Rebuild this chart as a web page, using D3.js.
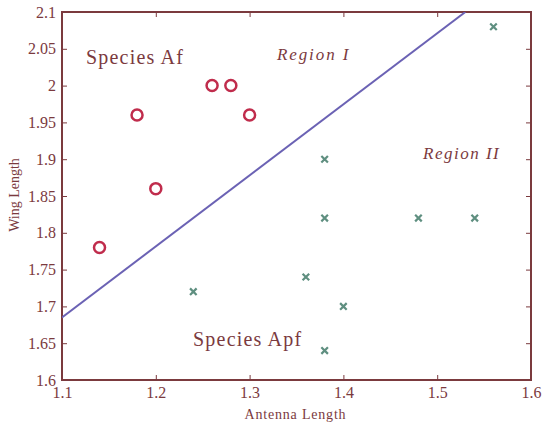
<!DOCTYPE html>
<html>
<head>
<meta charset="utf-8">
<script src="https://cdn.jsdelivr.net/npm/d3@7"></script>
<style>
  body { margin: 0; background: #fff; }
  svg text { font-family: "Times New Roman", Times, "Liberation Serif", serif; fill: #7b3a3e; }
</style>
</head>
<body>
<div id="chart"></div>
<script>
// data
var afAntenna = [1.14, 1.18, 1.20, 1.26, 1.28, 1.30];
var afWing    = [1.78, 1.96, 1.86, 2.00, 2.00, 1.96];
var apfAntenna = [1.24, 1.36, 1.38, 1.38, 1.38, 1.40, 1.48, 1.54, 1.56];
var apfWing    = [1.72, 1.74, 1.64, 1.82, 1.90, 1.70, 1.82, 1.82, 2.08];
var lineX = [1.1, 1.53];
var lineY = [1.685, 2.1];
var xTicks = [1.1, 1.2, 1.3, 1.4, 1.5, 1.6];
var yTicks = [1.6, 1.65, 1.7, 1.75, 1.8, 1.85, 1.9, 1.95, 2, 2.05, 2.1];

var W = 543, H = 422;
var margin = {top: 12, right: 12, bottom: 42, left: 62};
var width = W - margin.left - margin.right,
    height = H - margin.top - margin.bottom;

var axisColor = "#7b3a3e";

var svg = d3.select("#chart").append("svg")
    .attr("width", W).attr("height", H)
  .append("g")
    .attr("transform", "translate(" + margin.left + "," + margin.top + ")");

var x = d3.scaleLinear().domain([1.1, 1.6]).range([0, width]);
var y = d3.scaleLinear().domain([1.6, 2.1]).range([height, 0]);

// axes, ticks pointing inward
function styleAxis(g) {
  g.attr("font-family", null);
  g.select(".domain").remove();
  g.selectAll(".tick line").attr("stroke", axisColor).attr("stroke-width", 1);
  g.selectAll(".tick text").style("font-size", "16px").attr("fill", axisColor);
}
svg.append("g").attr("transform", "translate(0," + height + ")")
  .call(d3.axisBottom(x).tickValues(xTicks).tickFormat(d3.format("")).tickSize(-5).tickPadding(7))
  .call(styleAxis);
svg.append("g")
  .call(d3.axisLeft(y).tickValues(yTicks).tickFormat(d3.format("")).tickSize(-5).tickPadding(6))
  .call(styleAxis);
svg.append("g")
  .call(d3.axisTop(x).tickValues(xTicks).tickSize(-5).tickFormat(""))
  .call(styleAxis);
svg.append("g").attr("transform", "translate(" + width + ",0)")
  .call(d3.axisRight(y).tickValues(yTicks).tickSize(-5).tickFormat(""))
  .call(styleAxis);

svg.append("rect")
  .attr("width", width).attr("height", height)
  .attr("fill", "none").attr("stroke", axisColor).attr("stroke-width", 2);

// clip region
svg.append("clipPath").attr("id", "clip")
  .append("rect").attr("width", width).attr("height", height);

// decision line
svg.append("path")
  .datum(d3.zip(lineX, lineY))
  .attr("clip-path", "url(#clip)")
  .attr("fill", "none")
  .attr("stroke", "#6b62b4")
  .attr("stroke-width", 2)
  .attr("d", d3.line().x(function(d) { return x(d[0]); }).y(function(d) { return y(d[1]); }));

// species Af: circles
svg.selectAll(".af")
  .data(d3.zip(afAntenna, afWing))
  .enter().append("circle")
  .attr("class", "af")
  .attr("cx", function(d) { return x(d[0]); })
  .attr("cy", function(d) { return y(d[1]); })
  .attr("r", 5.5)
  .attr("fill", "none")
  .attr("stroke", "#c02c4c")
  .attr("stroke-width", 2.5);

// species Apf: crosses
svg.selectAll(".apf")
  .data(d3.zip(apfAntenna, apfWing))
  .enter().append("path")
  .attr("class", "apf")
  .attr("transform", function(d) { return "translate(" + x(d[0]) + "," + y(d[1]) + ")"; })
  .attr("d", d3.symbol(d3.symbolX, 30))
  .attr("fill", "none")
  .attr("stroke", "#5f8f80")
  .attr("stroke-width", 2.2);

// labels
svg.append("text").attr("x", x(1.1256)).attr("y", y(2.0293))
  .style("font-size", "20px").style("letter-spacing", "1.2px").text("Species Af");
svg.append("text").attr("x", x(1.2397)).attr("y", y(1.6462))
  .style("font-size", "20px").style("letter-spacing", "1.2px").text("Species Apf");
svg.append("text").attr("x", x(1.3292)).attr("y", y(2.0348))
  .style("font-size", "17px").style("font-style", "italic").style("letter-spacing", "1.9px").text("Region I");
svg.append("text").attr("x", x(1.4849)).attr("y", y(1.9003))
  .style("font-size", "17px").style("font-style", "italic").style("letter-spacing", "1.5px").text("Region II");

svg.append("text")
  .attr("x", width / 2 - 1).attr("y", height + 39)
  .attr("text-anchor", "middle")
  .style("font-size", "14px").style("letter-spacing", "0.8px")
  .text("Antenna Length");
svg.append("text")
  .attr("transform", "translate(-43," + (height / 2 - 1) + ") rotate(-90)")
  .attr("text-anchor", "middle")
  .style("font-size", "14px")
  .text("Wing Length");
</script>
</body>
</html>
